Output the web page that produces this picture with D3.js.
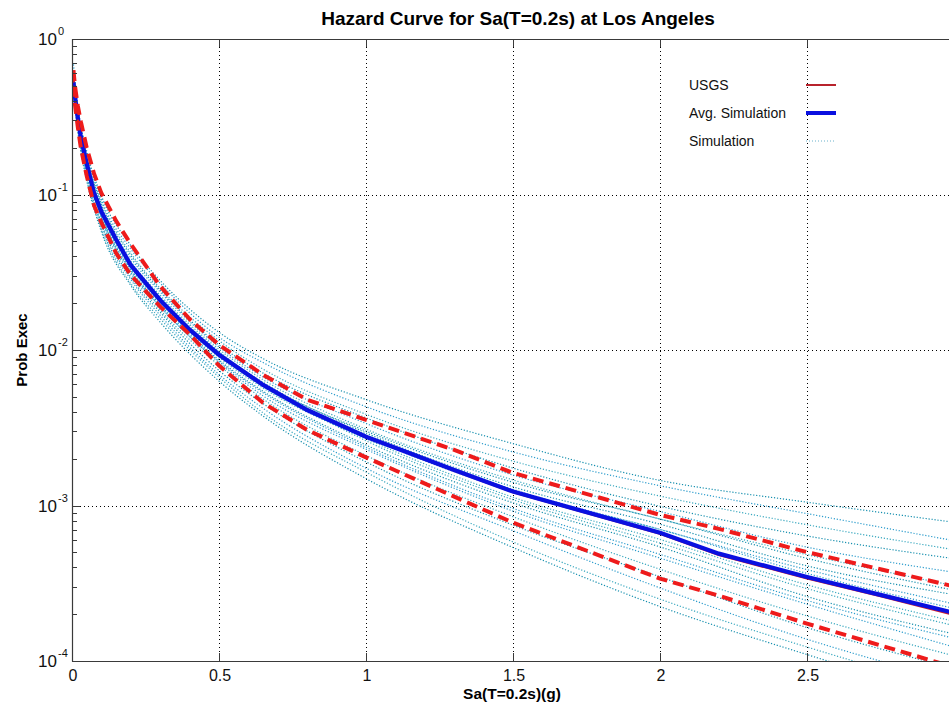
<!DOCTYPE html>
<html>
<head>
<meta charset="utf-8">
<script src="https://cdnjs.cloudflare.com/ajax/libs/d3/7.8.5/d3.min.js"></script>
<style>
    body { margin: 0; background: #fff; }
    svg { display: block; font-family: Arial, "Liberation Sans", sans-serif; }
</style>
</head>
<body>
<svg width="949" height="706"></svg>
<script>
// Sa(T=0.2s) in g for the main curves
let sa = [0.005, 0.01, 0.02, 0.03, 0.05, 0.075, 0.1, 0.15, 0.2, 0.3, 0.4, 0.5, 0.65, 0.8, 1.0, 1.3, 1.5, 2.0, 2.2, 2.5, 2.75, 3.0];

let usgsMean = [0.54, 0.43, 0.31, 0.234, 0.158, 0.102, 0.0776, 0.0513, 0.0351, 0.0209, 0.0135, 0.0093, 0.00594, 0.0041, 0.00276, 0.00168, 0.00122, 0.00066, 0.000482, 0.00034, 0.000262, 0.000198];
let avgSim = [0.525, 0.427, 0.309, 0.234, 0.158, 0.102, 0.0776, 0.0513, 0.0351, 0.0209, 0.0135, 0.00933, 0.00596, 0.00411, 0.00277, 0.00169, 0.00123, 0.000668, 0.00049, 0.000347, 0.000266, 0.000204];
let usgsUpper = [0.63, 0.50, 0.37, 0.295, 0.20, 0.136, 0.102, 0.0676, 0.0479, 0.0257, 0.0158, 0.0108, 0.00692, 0.00479, 0.00355, 0.00228, 0.00162, 0.00087, 0.000708, 0.000501, 0.000389, 0.000302];
let usgsLower = [0.50, 0.38, 0.27, 0.20, 0.132, 0.085, 0.066, 0.042, 0.0303, 0.019, 0.0126, 0.00794, 0.00457, 0.00306, 0.00204, 0.00114, 0.000776, 0.000339, 0.000263, 0.000174, 0.000126, 0.0000912];

// individual simulation runs (dotted)
let simSa = [0.005, 0.02, 0.05, 0.1, 0.2, 0.3, 0.5, 0.65, 1.0, 1.5, 2.0, 2.5, 3.0];
let simulations = [
    [0.63, 0.36, 0.19, 0.098, 0.047, 0.028, 0.013, 0.0088, 0.0048, 0.0025, 0.00145, 0.00105, 0.00078],
    [0.687, 0.372, 0.186, 0.0927, 0.0446, 0.0269, 0.0121, 0.0083, 0.00432, 0.00221, 0.00134, 0.000887, 0.000594],
    [0.574, 0.347, 0.182, 0.0904, 0.042, 0.025, 0.0115, 0.00753, 0.00386, 0.00193, 0.00115, 0.000752, 0.00052],
    [0.61, 0.339, 0.174, 0.087, 0.0407, 0.0243, 0.0108, 0.0071, 0.00366, 0.00174, 0.000989, 0.000637, 0.000455],
    [0.557, 0.331, 0.172, 0.0837, 0.039, 0.0236, 0.01045, 0.0067, 0.00337, 0.00157, 0.000916, 0.00054, 0.000372],
    [0.541, 0.32, 0.166, 0.0817, 0.0372, 0.0225, 0.0101, 0.00644, 0.0031, 0.00146, 0.000818, 0.000483, 0.000305],
    [0.525, 0.313, 0.162, 0.0796, 0.0356, 0.0215, 0.00964, 0.00619, 0.00293, 0.00132, 0.000758, 0.000409, 0.000267],
    [0.516, 0.309, 0.158, 0.0765, 0.0351, 0.0209, 0.00933, 0.00582, 0.00277, 0.00123, 0.000702, 0.000366, 0.000218],
    [0.541, 0.306, 0.155, 0.0753, 0.034, 0.0202, 0.00897, 0.00569, 0.00269, 0.00113, 0.000605, 0.000309, 0.00018],
    [0.508, 0.30, 0.151, 0.0731, 0.033, 0.0196, 0.00863, 0.00543, 0.00245, 0.00104, 0.000542, 0.00026, 0.000149],
    [0.50, 0.29, 0.147, 0.071, 0.0316, 0.019, 0.0083, 0.00507, 0.0023, 0.00092, 0.000459, 0.000232, 0.000123],
    [0.492, 0.281, 0.143, 0.0678, 0.0307, 0.0181, 0.00798, 0.00484, 0.0021, 0.000847, 0.000389, 0.000195, 0.000108],
    [0.484, 0.276, 0.136, 0.0649, 0.0293, 0.0175, 0.00738, 0.00452, 0.00191, 0.000748, 0.000348, 0.000164, 0.0000896],
    [0.469, 0.267, 0.133, 0.062, 0.0284, 0.0167, 0.00696, 0.00422, 0.00174, 0.000689, 0.000295, 0.000138, 0.0000741],
    [0.461, 0.259, 0.128, 0.0602, 0.0268, 0.0159, 0.00669, 0.00394, 0.00164, 0.000583, 0.00025, 0.000123, 0.0000653],
    [0.447, 0.251, 0.123, 0.0575, 0.026, 0.0151, 0.00631, 0.00376, 0.00149, 0.000537, 0.000224, 0.00011, 0.0000575],
    [0.592, 0.327, 0.164, 0.0806, 0.0367, 0.0219, 0.00979, 0.00607, 0.00285, 0.00127, 0.000702, 0.000387, 0.000233],
    [0.521, 0.303, 0.1565, 0.0776, 0.0346, 0.0206, 0.00915, 0.00596, 0.00261, 0.00109, 0.000573, 0.000292, 0.000169],
    [0.557, 0.316, 0.16, 0.0786, 0.0361, 0.0212, 0.00948, 0.00607, 0.00301, 0.00141, 0.000818, 0.000457, 0.000285],
    [0.512, 0.296, 0.149, 0.072, 0.0325, 0.019, 0.00846, 0.00531, 0.00237, 0.000959, 0.000485, 0.000245, 0.00014]
];

let xTicks = [0, 0.5, 1, 1.5, 2, 2.5];
let yTicks = [1, 0.1, 0.01, 0.001, 0.0001];
let yExponents = ["0", "-1", "-2", "-3", "-4"];
let legendLabels = ["USGS", "Avg. Simulation", "Simulation"];

let svg = d3.select('svg');
let margin = { left: 72, top: 39, right: 954, bottom: 661 };

let xScale = d3.scaleLinear()
    .domain([0, 3])
    .range([margin.left, margin.right]);

let yScale = d3.scaleLog()
    .domain([1e-4, 1])
    .range([margin.bottom, margin.top]);

let axisColor = '#3a3a3a';

svg.append('defs').append('clipPath')
    .attr('id', 'plotclip')
    .append('rect')
    .attr('x', margin.left)
    .attr('y', margin.top)
    .attr('width', margin.right - margin.left)
    .attr('height', margin.bottom - margin.top);

// grid
let grid = svg.append('g').attr('class', 'grid');
grid.selectAll('.vgrid').data(xTicks.concat([3]))
    .enter().append('line')
    .attr('class', 'vgrid')
    .attr('x1', d => xScale(d) + 0.5)
    .attr('x2', d => xScale(d) + 0.5)
    .attr('y1', margin.top)
    .attr('y2', margin.bottom)
    .style('stroke', '#000')
    .style('stroke-width', 1)
    .style('stroke-dasharray', '1,3');
grid.selectAll('.hgrid').data(yTicks)
    .enter().append('line')
    .attr('class', 'hgrid')
    .attr('x1', margin.left)
    .attr('x2', margin.right)
    .attr('y1', d => Math.round(yScale(d)) + 0.5)
    .attr('y2', d => Math.round(yScale(d)) + 0.5)
    .style('stroke', '#000')
    .style('stroke-width', 1)
    .style('stroke-dasharray', '1,3');

let plot = svg.append('g').attr('clip-path', 'url(#plotclip)');

let line = d3.line()
    .x(d => xScale(d[0]))
    .y(d => yScale(d[1]));

// simulation runs
let simLine = d3.line()
    .x(d => xScale(d[0]))
    .y(d => yScale(d[1]))
    .curve(d3.curveMonotoneX);

plot.selectAll('.sim').data(simulations)
    .enter().append('path')
    .attr('class', 'sim')
    .attr('d', d => simLine(simSa.map((s, i) => [s, d[i]])))
    .style('fill', 'none')
    .style('stroke', (d, i) => i % 3 == 0 ? '#168fae' : (i % 3 == 1 ? '#2c9ccc' : '#3aa8bf'))
    .style('stroke-width', 1.2)
    .style('stroke-dasharray', '1.2,1.8');

// USGS mean (under the average)
plot.append('path')
    .attr('d', line(sa.map((s, i) => [s, usgsMean[i]])))
    .style('fill', 'none')
    .style('stroke', '#d0202a')
    .style('stroke-width', 2.5);

// average of simulations
plot.append('path')
    .attr('d', line(sa.map((s, i) => [s, avgSim[i]])))
    .style('fill', 'none')
    .style('stroke', '#0a10e0')
    .style('stroke-width', 4.3);

// USGS bounds
[usgsUpper, usgsLower].forEach(function (series) {
    plot.append('path')
        .attr('d', line(sa.map((s, i) => [s, series[i]])))
        .style('fill', 'none')
        .style('stroke', '#ee1b1b')
        .style('stroke-width', 4)
        .style('stroke-dasharray', '11,6');
});

// axes box
let frame = svg.append('g').attr('class', 'frame');
frame.append('line')
    .attr('x1', margin.left + 0.5).attr('x2', margin.left + 0.5)
    .attr('y1', margin.top).attr('y2', margin.bottom + 0.5)
    .style('stroke', axisColor).style('stroke-width', 1.2);
frame.append('line')
    .attr('x1', margin.left).attr('x2', margin.right)
    .attr('y1', margin.bottom + 0.5).attr('y2', margin.bottom + 0.5)
    .style('stroke', axisColor).style('stroke-width', 1.2);
frame.append('line')
    .attr('x1', margin.left).attr('x2', margin.right)
    .attr('y1', margin.top + 0.5).attr('y2', margin.top + 0.5)
    .style('stroke', axisColor).style('stroke-width', 1.2);

// x ticks (inward, bottom and top)
frame.selectAll('.xtick').data(xTicks)
    .enter().append('line')
    .attr('x1', d => xScale(d) + 0.5).attr('x2', d => xScale(d) + 0.5)
    .attr('y1', margin.bottom).attr('y2', margin.bottom - 8)
    .style('stroke', axisColor);
frame.selectAll('.xtick-top').data(xTicks)
    .enter().append('line')
    .attr('x1', d => xScale(d) + 0.5).attr('x2', d => xScale(d) + 0.5)
    .attr('y1', margin.top).attr('y2', margin.top + 8)
    .style('stroke', axisColor);

// y ticks, major and minor (log)
let minorTicks = yScale.ticks().filter(d => yTicks.indexOf(d) < 0);
frame.selectAll('.ytick').data(yTicks)
    .enter().append('line')
    .attr('x1', margin.left).attr('x2', margin.left + 8)
    .attr('y1', d => Math.round(yScale(d)) + 0.5)
    .attr('y2', d => Math.round(yScale(d)) + 0.5)
    .style('stroke', axisColor);
frame.selectAll('.yminor').data(minorTicks)
    .enter().append('line')
    .attr('x1', margin.left).attr('x2', margin.left + 5)
    .attr('y1', d => Math.round(yScale(d)) + 0.5)
    .attr('y2', d => Math.round(yScale(d)) + 0.5)
    .style('stroke', axisColor);

// tick labels
svg.selectAll('.xlabel').data(xTicks)
    .enter().append('text')
    .attr('x', d => xScale(d) + 1)
    .attr('y', 681)
    .style('text-anchor', 'middle')
    .style('font-size', '16px')
    .style('fill', '#111')
    .text(d => d);

svg.selectAll('.ybase').data(yTicks)
    .enter().append('text')
    .attr('x', 57)
    .attr('y', d => yScale(d) + 6)
    .style('text-anchor', 'end')
    .style('font-size', '17px')
    .style('fill', '#111')
    .text('10');
svg.selectAll('.yexp').data(yTicks)
    .enter().append('text')
    .attr('x', 58)
    .attr('y', d => yScale(d) - 4)
    .style('text-anchor', 'start')
    .style('font-size', '11px')
    .style('fill', '#111')
    .text((d, i) => yExponents[i]);

// titles
svg.append('text')
    .attr('x', 518)
    .attr('y', 25)
    .style('text-anchor', 'middle')
    .style('font-size', '19px')
    .style('font-weight', 'bold')
    .text('Hazard Curve for Sa(T=0.2s) at Los Angeles');

svg.append('text')
    .attr('x', 512)
    .attr('y', 699)
    .style('text-anchor', 'middle')
    .style('font-size', '15.5px')
    .style('font-weight', 'bold')
    .text('Sa(T=0.2s)(g)');

svg.append('text')
    .attr('transform', 'translate(27,350) rotate(-90)')
    .style('text-anchor', 'middle')
    .style('font-size', '15px')
    .style('font-weight', 'bold')
    .text('Prob Exec');

// legend
let legend = svg.append('g').attr('class', 'legend');
legend.selectAll('text').data(legendLabels)
    .enter().append('text')
    .attr('x', 689)
    .attr('y', (d, i) => 90 + i * 28)
    .style('font-size', '14px')
    .style('fill', '#111')
    .text(d => d);
legend.append('line')
    .attr('x1', 806).attr('x2', 836).attr('y1', 85).attr('y2', 85)
    .style('stroke', '#b8232c').style('stroke-width', 2);
legend.append('line')
    .attr('x1', 806).attr('x2', 836).attr('y1', 113).attr('y2', 113)
    .style('stroke', '#0a10e0').style('stroke-width', 4);
legend.append('line')
    .attr('x1', 806).attr('x2', 836).attr('y1', 141).attr('y2', 141)
    .style('stroke', '#6ab2cc').style('stroke-width', 1)
    .style('stroke-dasharray', '1,2');
</script>
</body>
</html>
